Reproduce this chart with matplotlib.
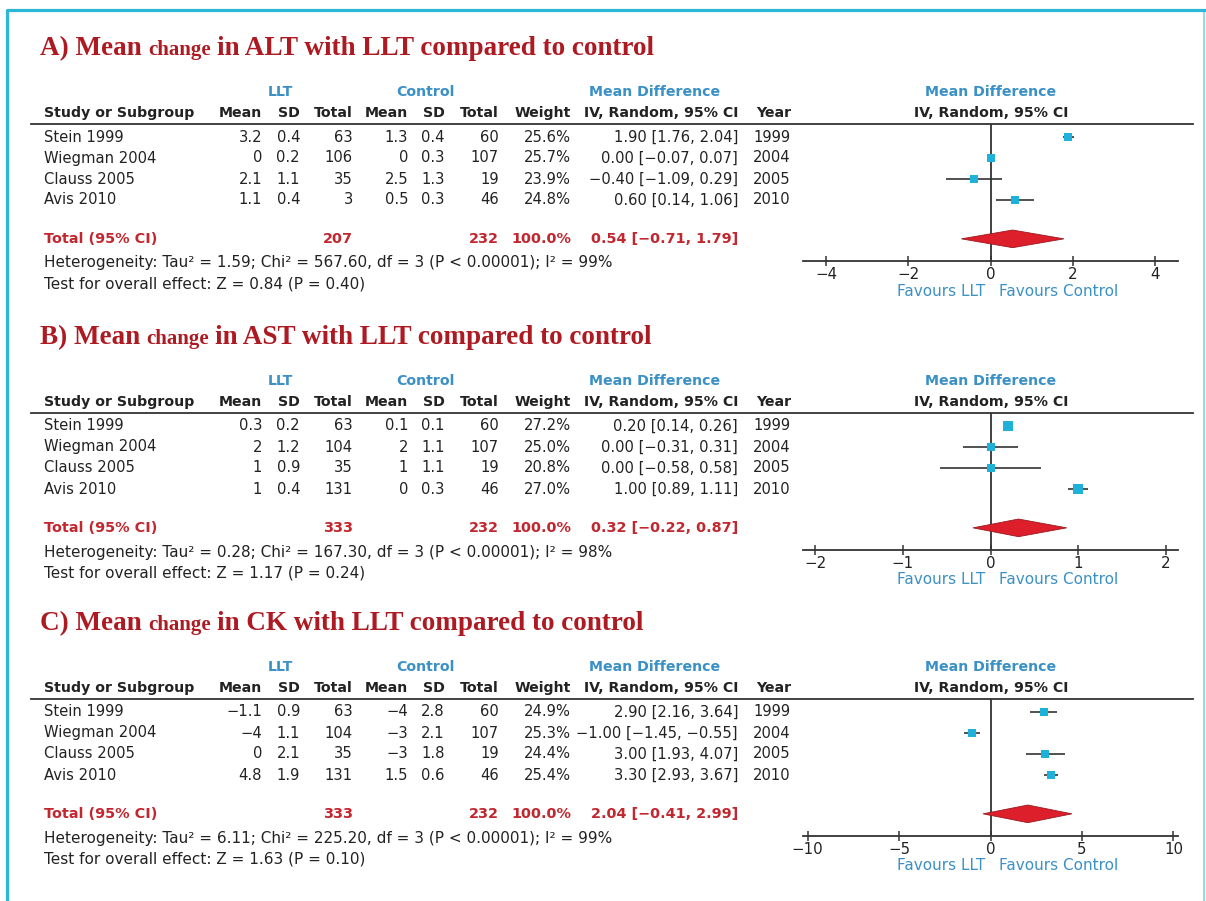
import matplotlib
matplotlib.use("Agg")
import matplotlib.pyplot as plt
from matplotlib.patches import Polygon

plt.rcParams["font.family"] = ["DejaVu Sans"]

# ---- data ----
STUDIES = ["Stein 1999", "Wiegman 2004", "Clauss 2005", "Avis 2010"]
YEARS = [1999, 2004, 2005, 2010]

# A) ALT
ALT_LLT_MEAN = [3.2, 0, 2.1, 1.1]
ALT_LLT_SD = [0.4, 0.2, 1.1, 0.4]
ALT_LLT_N = [63, 106, 35, 3]
ALT_CTL_MEAN = [1.3, 0, 2.5, 0.5]
ALT_CTL_SD = [0.4, 0.3, 1.3, 0.3]
ALT_CTL_N = [60, 107, 19, 46]
ALT_WEIGHT = [25.6, 25.7, 23.9, 24.8]
ALT_MD = [1.90, 0.00, -0.40, 0.60]
ALT_LO = [1.76, -0.07, -1.09, 0.14]
ALT_HI = [2.04, 0.07, 0.29, 1.06]
ALT_TOTAL = [207, 232]          # LLT, control
ALT_POOLED = [0.54, -0.71, 1.79]  # estimate, lower, upper (as printed)
ALT_DIAMOND = [0.54, -0.71, 1.79]  # as drawn
ALT_STATS = ["1.59", "567.60", "3", "99", "0.84", "0.40"]  # tau2, chi2, df, I2, Z, P

# B) AST
AST_LLT_MEAN = [0.3, 2, 1, 1]
AST_LLT_SD = [0.2, 1.2, 0.9, 0.4]
AST_LLT_N = [63, 104, 35, 131]
AST_CTL_MEAN = [0.1, 2, 1, 0]
AST_CTL_SD = [0.1, 1.1, 1.1, 0.3]
AST_CTL_N = [60, 107, 19, 46]
AST_WEIGHT = [27.2, 25.0, 20.8, 27.0]
AST_MD = [0.20, 0.00, 0.00, 1.00]
AST_LO = [0.14, -0.31, -0.58, 0.89]
AST_HI = [0.26, 0.31, 0.58, 1.11]
AST_TOTAL = [333, 232]
AST_POOLED = [0.32, -0.22, 0.87]
AST_DIAMOND = [0.32, -0.20, 0.87]
AST_STATS = ["0.28", "167.30", "3", "98", "1.17", "0.24"]

# C) CK
CK_LLT_MEAN = [-1.1, -4, 0, 4.8]
CK_LLT_SD = [0.9, 1.1, 2.1, 1.9]
CK_LLT_N = [63, 104, 35, 131]
CK_CTL_MEAN = [-4, -3, -3, 1.5]
CK_CTL_SD = [2.8, 2.1, 1.8, 0.6]
CK_CTL_N = [60, 107, 19, 46]
CK_WEIGHT = [24.9, 25.3, 24.4, 25.4]
CK_MD = [2.90, -1.00, 3.00, 3.30]
CK_LO = [2.16, -1.45, 1.93, 2.93]
CK_HI = [3.64, -0.55, 4.07, 3.67]
CK_TOTAL = [333, 232]
CK_POOLED = [2.04, -0.41, 2.99]
CK_DIAMOND = [2.04, -0.41, 4.45]
CK_STATS = ["6.11", "225.20", "3", "99", "1.63", "0.10"]

PANELS = [
    dict(tag="A", analyte="ALT", llt=(ALT_LLT_MEAN, ALT_LLT_SD, ALT_LLT_N),
         ctl=(ALT_CTL_MEAN, ALT_CTL_SD, ALT_CTL_N), w=ALT_WEIGHT,
         md=ALT_MD, lo=ALT_LO, hi=ALT_HI, tot=ALT_TOTAL, pooled=ALT_POOLED,
         diamond=ALT_DIAMOND, stats=ALT_STATS, ticks=[-4, -2, 0, 2, 4]),
    dict(tag="B", analyte="AST", llt=(AST_LLT_MEAN, AST_LLT_SD, AST_LLT_N),
         ctl=(AST_CTL_MEAN, AST_CTL_SD, AST_CTL_N), w=AST_WEIGHT,
         md=AST_MD, lo=AST_LO, hi=AST_HI, tot=AST_TOTAL, pooled=AST_POOLED,
         diamond=AST_DIAMOND, stats=AST_STATS, ticks=[-2, -1, 0, 1, 2]),
    dict(tag="C", analyte="CK", llt=(CK_LLT_MEAN, CK_LLT_SD, CK_LLT_N),
         ctl=(CK_CTL_MEAN, CK_CTL_SD, CK_CTL_N), w=CK_WEIGHT,
         md=CK_MD, lo=CK_LO, hi=CK_HI, tot=CK_TOTAL, pooled=CK_POOLED,
         diamond=CK_DIAMOND, stats=CK_STATS, ticks=[-10, -5, 0, 5, 10]),
]

# ---- style ----
W, H = 1206, 901
TITLE_RED = "#ad1a22"
TOTAL_RED = "#c2272f"
HDR_BLUE = "#3b90c6"
SQ_CYAN = "#1fb1da"
DIAMOND_RED = "#dc1f2a"
INK = "#222222"
LINE = "#333333"
BORDER = "#2cb6d8"
FS_HDR = 10.2     # bold headers
FS_TOT = 10.4     # bold red total row
FS_ROW = 10.6     # table rows
FS_NOTE = 11      # heterogeneity / overall effect / favours

# pixel layout of panel A; B and C are shifted down
OFFSETS = [0, 289, 575]
TITLE_Y, GRP_Y, HDR_Y, LINE_Y = 55, 92, 113, 124
ROW0, DY, TOTAL_ROW = 137, 21, 4.85
HET_Y, TEST_Y, AXIS_Y = 263, 284, 261
X_STUDY = 44
COLS = [262, 300, 353, 408, 445, 499, 571, 738, 791]
FX0, FX1 = 803, 1178
XHALF = {4: 4.57, 2: 2.14, 10: 10.25}   # half-width of each forest x range


def num(v):
    return f"{v:g}".replace("-", "\u2212")


def ci(m, l, h):
    return f"{m:.2f} [{l:.2f}, {h:.2f}]".replace("-", "\u2212")


fig = plt.figure(figsize=(W / 100, H / 100), dpi=100)
lay = fig.add_axes([0, 0, 1, 1])
lay.set_xlim(0, W)
lay.set_ylim(H, 0)
lay.set_axis_off()

# cyan frame
lay.plot([6.5, 6.5, W], [H, 9.5, 9.5], color=BORDER, lw=2.3, solid_capstyle="butt")
lay.plot([W - 2, W - 2], [9.5, H], color=BORDER, lw=1.2, alpha=0.6)

for p, off in zip(PANELS, OFFSETS):
    def T(x, y, s, **kw):
        kw.setdefault("fontsize", FS_ROW)
        kw.setdefault("color", INK)
        kw.setdefault("va", "center")
        return lay.text(x, y + off, s, **kw)

    # title with the smaller "change"
    tkw = dict(family="Liberation Serif", weight="bold", color=TITLE_RED,
               va="baseline")
    t1 = lay.text(40, TITLE_Y + off, f"{p['tag']}) Mean", fontsize=19.5, **tkw)
    t2 = lay.annotate("change", xy=(1, TITLE_Y + off), xycoords=(t1, lay.transData),
                      xytext=(4.5, 0), textcoords="offset points", fontsize=15,
                      **tkw)
    lay.annotate(f"in {p['analyte']} with LLT compared to control",
                 xy=(1, TITLE_Y + off), xycoords=(t2, lay.transData),
                 xytext=(4.5, 0), textcoords="offset points", fontsize=19.5,
                 **tkw)

    # group headers
    hb = dict(color=HDR_BLUE, weight="bold", ha="center", fontsize=FS_HDR)
    T(280, GRP_Y, "LLT", **hb)
    T(425, GRP_Y, "Control", **hb)
    T(655, GRP_Y, "Mean Difference", **hb)
    T(991, GRP_Y, "Mean Difference", **hb)

    # column headers
    T(X_STUDY, HDR_Y, "Study or Subgroup", weight="bold", fontsize=FS_HDR)
    heads = ["Mean", "SD", "Total", "Mean", "SD", "Total", "Weight",
             "IV, Random, 95% CI", "Year"]
    for x, h in zip(COLS, heads):
        T(x, HDR_Y, h, weight="bold", ha="right", fontsize=FS_HDR)
    T(991, HDR_Y, "IV, Random, 95% CI", weight="bold", ha="center",
      fontsize=FS_HDR)
    lay.plot([31, 1193], [LINE_Y + off] * 2, color=LINE, lw=1.3)

    # study rows
    lm, ls, ln = p["llt"]
    cm, cs, cn = p["ctl"]
    for i, name in enumerate(STUDIES):
        y = ROW0 + i * DY
        T(X_STUDY, y, name)
        vals = [num(lm[i]), num(ls[i]), str(ln[i]), num(cm[i]), num(cs[i]),
                str(cn[i]), f"{p['w'][i]:.1f}%",
                ci(p["md"][i], p["lo"][i], p["hi"][i]), str(YEARS[i])]
        for x, v in zip(COLS, vals):
            T(x, y, v, ha="right")

    # total row
    ty = ROW0 + TOTAL_ROW * DY
    rb = dict(color=TOTAL_RED, weight="bold", ha="right", fontsize=FS_TOT)
    T(X_STUDY, ty, "Total (95% CI)", color=TOTAL_RED, weight="bold",
      fontsize=FS_TOT)
    T(COLS[2], ty, str(p["tot"][0]), **rb)
    T(COLS[5], ty, str(p["tot"][1]), **rb)
    T(COLS[6], ty, "100.0%", **rb)
    T(COLS[7], ty, ci(*p["pooled"]), **rb)

    tau2, chi2, df, i2, z, pv = p["stats"]
    T(X_STUDY, HET_Y, f"Heterogeneity: Tau\u00b2 = {tau2}; Chi\u00b2 = {chi2}, "
      f"df = {df} (P < 0.00001); I\u00b2 = {i2}%", fontsize=FS_NOTE)
    T(X_STUDY, TEST_Y, f"Test for overall effect: Z = {z} (P = {pv})",
      fontsize=FS_NOTE)

    # forest plot
    top = LINE_Y + off
    bot = AXIS_Y + off
    ax = fig.add_axes([FX0 / W, 1 - bot / H, (FX1 - FX0) / W, (bot - top) / H])
    ax.patch.set_alpha(0)
    half = XHALF[p["ticks"][-1]]
    ax.set_xlim(-half, half)
    ax.set_ylim((AXIS_Y - ROW0) / DY, (LINE_Y - ROW0) / DY)
    for s in ["top", "left", "right"]:
        ax.spines[s].set_visible(False)
    ax.spines["bottom"].set_color(LINE)
    ax.spines["bottom"].set_linewidth(1.3)
    ax.set_yticks([])
    ax.set_xticks(p["ticks"])
    ax.tick_params(axis="x", direction="inout", length=7, width=1.1,
                   color=LINE, labelsize=10.8, labelcolor=INK, pad=0.5)
    ax.axvline(0, color=LINE, lw=1.3)

    rows = list(range(len(STUDIES)))
    ax.hlines(rows, p["lo"], p["hi"], color=LINE, lw=1.2, zorder=3)
    for r, m, wt in zip(rows, p["md"], p["w"]):
        ax.plot(m, r, "s", color=SQ_CYAN, markersize=wt * 0.25, zorder=4,
                markeredgewidth=0)
    dm, dl, dh = p["diamond"]
    hh = 0.42
    ax.add_patch(Polygon([(dl, TOTAL_ROW), (dm, TOTAL_ROW - hh), (dh, TOTAL_ROW),
                          (dm, TOTAL_ROW + hh)], closed=True,
                         facecolor=DIAMOND_RED, edgecolor="#9a1a20", lw=0.6,
                         zorder=4))

    T(985, AXIS_Y + 30, "Favours LLT", color=HDR_BLUE, ha="right",
      fontsize=FS_NOTE)
    T(999, AXIS_Y + 30, "Favours Control", color=HDR_BLUE, ha="left",
      fontsize=FS_NOTE)

fig.savefig("out.png", dpi=100, facecolor="white")
